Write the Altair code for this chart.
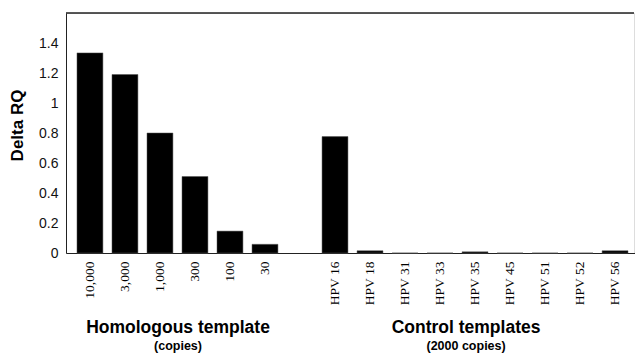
import altair as alt
import pandas as pd

categories = ["10,000", "3,000", "1,000", "300", "100", "30",
              "HPV 16", "HPV 18", "HPV 31", "HPV 33", "HPV 35",
              "HPV 45", "HPV 51", "HPV 52", "HPV 56"]
values = [1.334, 1.19, 0.80, 0.51, 0.146, 0.058,
          0.776, 0.015, 0.0, 0.0, 0.008, 0.0, 0.0, 0.0, 0.015]
domain = ["10,000", "3,000", "1,000", "300", "100", "30", "",
          "HPV 16", "HPV 18", "HPV 31", "HPV 33", "HPV 35",
          "HPV 45", "HPV 51", "HPV 52", "HPV 56"]
y_ticks = [0, 0.2, 0.4, 0.6, 0.8, 1.0, 1.2, 1.4]
group_titles = ["Homologous template", "Control templates"]
group_subtitles = ["(copies)", "(2000 copies)"]
group_anchor = ["1,000", "HPV 35"]
group_shift = [31, 4]

df = pd.DataFrame({"cat": categories, "val": values})
groups = pd.DataFrame({"cat": group_anchor, "title": group_titles,
                       "sub": group_subtitles, "shift": group_shift})

xscale = alt.Scale(domain=domain, paddingInner=0.26, paddingOuter=0.314,
                   range=[0, 573])
yscale = alt.Scale(domain=[0, 1.6], nice=False)

xaxis = alt.Axis(title=None, labelAngle=-90, labelFont="Liberation Serif",
                 labelFontSize=13.5, labelColor="black", ticks=False,
                 labelPadding=8, domainColor="#222", domainWidth=1)
yaxis = alt.Axis(values=y_ticks, format="~g", title="Delta RQ",
                 titleFont="Liberation Sans", titleFontSize=17,
                 titleFontWeight="bold", titleColor="black",
                 labelFont="Liberation Sans", labelFontSize=14,
                 labelColor="#111", ticks=False, labelPadding=8,
                 labelOverlap=False, titleY=112,
                 grid=False, domainColor="#222", titlePadding=12)

bars = alt.Chart(df).mark_bar(color="black", stroke="#555", strokeWidth=0.5).encode(
    x=alt.X("cat:N", scale=xscale, sort=domain, axis=xaxis, title=None),
    y=alt.Y("val:Q", scale=yscale, axis=yaxis, title="Delta RQ"),
)

top = alt.Chart(pd.DataFrame({"val": [1.6]})).mark_rule(color="#222", strokeWidth=1.5).encode(
    y=alt.Y("val:Q", scale=yscale, axis=yaxis, title="Delta RQ")
)

gtitle = alt.Chart(groups).mark_text(font="Liberation Sans", fontSize=17.5,
                                     fontWeight="bold", color="black",
                                     baseline="middle").encode(
    x=alt.X("cat:N", scale=xscale, sort=domain, axis=xaxis, title=None),
    xOffset=alt.XOffset("shift:Q", scale=None),
    y=alt.value(315),
    text="title:N",
)
gsub = alt.Chart(groups).mark_text(font="Liberation Sans", fontSize=12.5,
                                   fontWeight="bold", color="black",
                                   baseline="middle").encode(
    x=alt.X("cat:N", scale=xscale, sort=domain, axis=xaxis, title=None),
    xOffset=alt.XOffset("shift:Q", scale=None),
    y=alt.value(333),
    text="sub:N",
)

chart = alt.layer(bars, top, gtitle, gsub).properties(
    width=568, height=240,
    autosize=alt.AutoSizeParams(type="none"),
    padding={"left": 66, "top": 13, "right": 1, "bottom": 101},
).configure_view(stroke=None).configure(background="white")

chart.save("out.html", embed_options={"renderer": "svg", "actions": False})
